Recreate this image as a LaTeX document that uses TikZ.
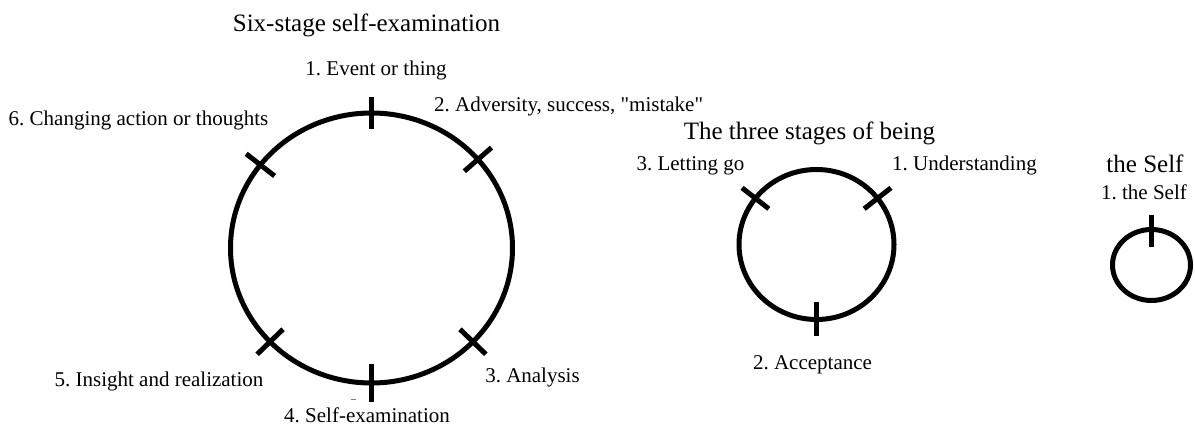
\documentclass[tikz,border=0pt]{standalone}
\usepackage{fontspec}
\setmainfont{Liberation Serif}[Ligatures=TeXOff]
\frenchspacing
\begin{document}
\begin{tikzpicture}[x=1pt,y=-1pt,
  ring/.style={line width=5pt},
  tick/.style={line width=5pt},
  lbl/.style={inner sep=0pt,anchor=base,font=\fontsize{21}{24}\selectfont},
  ttl/.style={inner sep=0pt,anchor=base,font=\fontsize{25}{29}\selectfont}]
\useasboundingbox (0,0) rectangle (1195,435);

% six-stage cycle
\draw[ring] (371.5,248) ellipse [x radius=141, y radius=135];
\foreach \a/\h in {90/16,41/18,142/18,224/18,316/18,270/19}
  \draw[tick] ({371.5+(141-\h)*cos(\a)},{248-(135-\h)*sin(\a)})
           -- ({371.5+(141+\h)*cos(\a)},{248-(135+\h)*sin(\a)});
\draw[gray,line width=0.8pt] (351,399) -- (356,399);

\node[ttl] (t1) at (366.5,32) {Six-stage self-examination};
\node[lbl] (s1) at (376,76) {1. Event or thing};
\node[lbl,anchor=base west] (s2) at (434,112) {2. Adversity, success, "mistake"};
\node[lbl] (s3) at (532.5,383) {3. Analysis};
\node[lbl] (s4) at (367,423) {4. Self-examination};
\node[lbl] (s5) at (159,387) {5. Insight and realization};
\node[lbl] (s6) at (138.5,126) {6. Changing action or thoughts};

% three stages of being
\draw[ring] (816.5,244.5) ellipse [x radius=77.5, y radius=75];
\foreach \a/\h in {142/17,38/17,270/17}
  \draw[tick] ({816.5+(77.5-\h)*cos(\a)},{244.5-(75-\h)*sin(\a)})
           -- ({816.5+(77.5+\h)*cos(\a)},{244.5-(75+\h)*sin(\a)});

\node[ttl] (t2) at (809.5,140) {The three stages of being};
\node[lbl] (b1) at (964.5,171) {1. Understanding};
\node[lbl] (b2) at (812.5,370) {2. Acceptance};
\node[lbl] (b3) at (690.5,171) {3. Letting go};

% the Self
\draw[ring] (1151.5,265) ellipse [x radius=39, y radius=35.5];
\draw[tick] (1151.5,215) -- (1151.5,247);

\node[ttl] (t3) at (1145,173) {the Self};
\node[lbl] (e1) at (1144,200) {1. the Self};
\end{tikzpicture}
\end{document}
